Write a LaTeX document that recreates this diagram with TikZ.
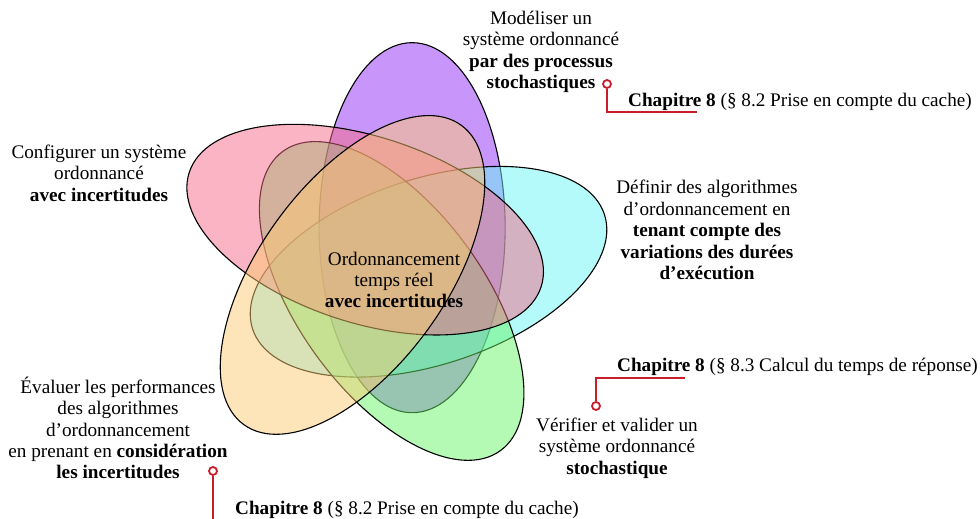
\documentclass[tikz,border=0pt]{standalone}
\usepackage{fontspec}
\setmainfont{Liberation Serif}
\begin{document}
\begin{tikzpicture}[x=1pt,y=1pt,
  venn/.style={draw=black, line width=1.1pt, fill opacity=0.5},
  lbl/.style={align=center, inner sep=0pt, font=\fontsize{19.2}{21.4}\selectfont},
  chap/.style={anchor=west, inner sep=0pt, font=\fontsize{19.2}{21.4}\selectfont},
  pin/.style={circle, draw=calloutred, fill=white, line width=1.8pt, minimum size=8pt, inner sep=0pt},
  wire/.style={draw=calloutred, line width=2.2pt}
]
\definecolor{cpurple}{RGB}{145,45,245}
\definecolor{cpink}{RGB}{245,105,135}
\definecolor{ccyan}{RGB}{105,245,245}
\definecolor{cgreen}{RGB}{105,245,105}
\definecolor{cyellow}{RGB}{253,203,115}
\definecolor{calloutred}{RGB}{200,30,42}
\useasboundingbox (0,0) rectangle (980,519);
% ellipses (drawing order: purple, cyan, green, pink, yellow)
\coordinate (C) at (390,258);
\draw[venn, fill=cpurple, shift={(390,258)}, shift={(56.4:40)}, rotate=90] (0,0) ellipse [x radius=185, y radius=93];
\draw[venn, fill=ccyan, shift={(390,258)}, shift={(344.4:40)}, rotate=18] (0,0) ellipse [x radius=185, y radius=93];
\draw[venn, fill=cgreen, shift={(390,258)}, shift={(272.4:40)}, rotate=306] (0,0) ellipse [x radius=185, y radius=93];
\draw[venn, fill=cpink, shift={(390,258)}, shift={(128.4:40)}, rotate=162] (0,0) ellipse [x radius=185, y radius=93];
\draw[venn, fill=cyellow, shift={(390,258)}, shift={(200.4:40)}, rotate=234] (0,0) ellipse [x radius=185, y radius=93];
% labels
\node[lbl] (center) at (394,239) {Ordonnancement\\temps réel\\\textbf{avec incertitudes}};
\node[lbl] (top) at (541,467) {Modéliser un\\système ordonnancé\\\textbf{par des processus}\\\textbf{stochastiques}};
\node[lbl] (left) at (99,346) {Configurer un système\\ordonnancé\\\textbf{avec incertitudes}};
\node[lbl] (right) at (707,289) {Définir des algorithmes\\d’ordonnancement en\\\textbf{tenant compte des}\\\textbf{variations des durées}\\\textbf{d’exécution}};
\node[lbl] (botright) at (617,71) {Vérifier et valider un\\système ordonnancé\\\textbf{stochastique}};
\node[lbl] (botleft) at (118,91) {Évaluer les performances\\des algorithmes\\d’ordonnancement\\en prenant en \textbf{considération}\\\textbf{les incertitudes}};
% chapter references
\node[chap] (chapA) at (628,417) {\textbf{Chapitre 8} (§ 8.2 Prise en compte du cache)};
\node[chap] (chapB) at (617,152) {\textbf{Chapitre 8} (§ 8.3 Calcul du temps de réponse)};
\node[chap] (chapC) at (235,9) {\textbf{Chapitre 8} (§ 8.2 Prise en compte du cache)};
% callouts
\coordinate (endA) at (697,407);
\coordinate (endB) at (685,141);
\coordinate (endC) at (320,-12);
\node[pin] (pinA) at (607,435) {};
\node[pin] (pinB) at (596,113) {};
\node[pin] (pinC) at (213,48) {};
\draw[wire] (pinA) |- (endA);
\draw[wire] (pinB) |- (endB);
\draw[wire] (pinC) |- (endC);
\end{tikzpicture}
\end{document}
